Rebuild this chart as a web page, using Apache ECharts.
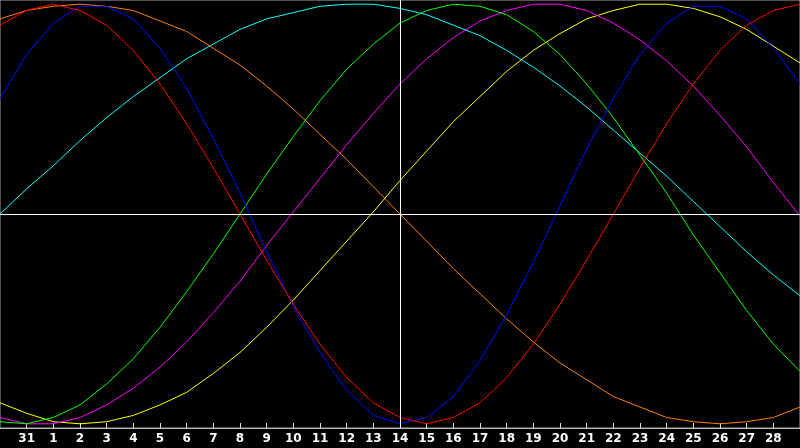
<!DOCTYPE html>
<html>
<head>
<meta charset="utf-8">
<script src="https://cdn.jsdelivr.net/npm/echarts@6/dist/echarts.min.js"></script>
<style>
  html, body { margin: 0; padding: 0; background: #000; }
  #chart { width: 800px; height: 448px; }
</style>
</head>
<body>
<div id="chart"></div>
<script>
// days shown along the bottom (first and last sit on the frame edges, unlabeled)
const days = ["30", "31", "1", "2", "3", "4", "5", "6", "7", "8", "9", "10", "11", "12", "13", "14",
  "15", "16", "17", "18", "19", "20", "21", "22", "23", "24", "25", "26", "27", "28", "29"];
const today = "14";

// curve values per day, -100..100
const redVals = [90, 97, 100, 97, 90, 78, 62, 43, 22, 0, -22, -43, -62, -78, -90, -97,
  -100, -97, -90, -78, -62, -43, -22, 0, 22, 43, 62, 78, 90, 97, 100];
const blueVals = [55, 76, 91, 99, 99, 93, 79, 60, 36, 10, -18, -44, -66, -84, -96, -100,
  -97, -87, -70, -48, -23, 4, 31, 55, 76, 91, 99, 99, 93, 79, 62];
const greenVals = [-99, -100, -97, -91, -81, -69, -54, -37, -19, 0, 19, 37, 54, 69, 81, 91,
  97, 100, 99, 95, 87, 76, 62, 46, 28, 10, -10, -28, -46, -62, -75];
const magentaVals = [-97, -100, -100, -97, -91, -83, -73, -61, -47, -32, -15, 1, 17, 33, 48, 62,
  74, 84, 92, 97, 100, 100, 97, 91, 83, 73, 61, 47, 32, 15, -1];
const yellowVals = [-90, -95, -99, -100, -99, -96, -91, -85, -76, -66, -54, -41, -27, -13, 1, 16,
  30, 44, 56, 68, 78, 86, 93, 97, 100, 100, 98, 94, 88, 80, 72];
const cyanVals = [0, 12, 23, 35, 46, 56, 65, 74, 81, 88, 93, 96, 99, 100, 100, 98,
  95, 90, 85, 78, 70, 61, 51, 40, 29, 18, 6, -6, -18, -29, -39];
const orangeVals = [93, 97, 99, 100, 99, 97, 92, 87, 79, 71, 61, 50, 38, 26, 13, 0,
  -13, -26, -38, -50, -61, -71, -79, -87, -92, -97, -99, -100, -99, -97, -92];

const curves = [
  { name: "cyan", color: "#00ffff", data: cyanVals },
  { name: "orange", color: "#ff8000", data: orangeVals },
  { name: "yellow", color: "#ffff00", data: yellowVals },
  { name: "magenta", color: "#ff00ff", data: magentaVals },
  { name: "green", color: "#00ff00", data: greenVals },
  { name: "blue", color: "#0000ff", data: blueVals },
  { name: "red", color: "#ff0000", data: redVals },
];

const edge = (i) => i > 0 && i < days.length - 1;

var myChart = echarts.init(document.getElementById("chart"));
var series = curves.map((c) => ({
  name: c.name,
  type: "line",
  data: c.data,
  symbol: "none",
  smooth: false,
  silent: true,
  animation: false,
  lineStyle: { color: c.color, width: 1 },
}));
// zero line and today marker
series.unshift({
  type: "line",
  data: [],
  silent: true,
  animation: false,
  markLine: {
    symbol: "none",
    silent: true,
    animation: false,
    label: { show: false },
    lineStyle: { color: "#ffffff", width: 1, type: "solid" },
    data: [{ yAxis: 0 }, { xAxis: today }],
  },
});

var option = {
  backgroundColor: "#000000",
  animation: false,
  grid: {
    left: 0, right: 0, top: 0, bottom: 20,
    show: true,
    borderColor: "#a8a8a8",
    borderWidth: 1,
    backgroundColor: "#000000",
  },
  xAxis: {
    type: "category",
    data: days,
    boundaryGap: false,
    axisLine: { show: true, onZero: false, lineStyle: { color: "#b8b8b8", width: 1 } },
    axisTick: { show: true, inside: true, length: 5, interval: (i) => edge(i), lineStyle: { color: "#e0e0e0" } },
    axisLabel: {
      interval: (i) => edge(i),
      color: "#ffffff",
      fontFamily: "DejaVu Sans",
      fontWeight: "bold",
      fontSize: 12,
      margin: 5,
    },
    splitLine: { show: false },
  },
  yAxis: {
    type: "value",
    min: -102,
    max: 102,
    show: false,
    splitLine: { show: false },
  },
  series: series,
};
myChart.setOption(option);
</script>
</body>
</html>
